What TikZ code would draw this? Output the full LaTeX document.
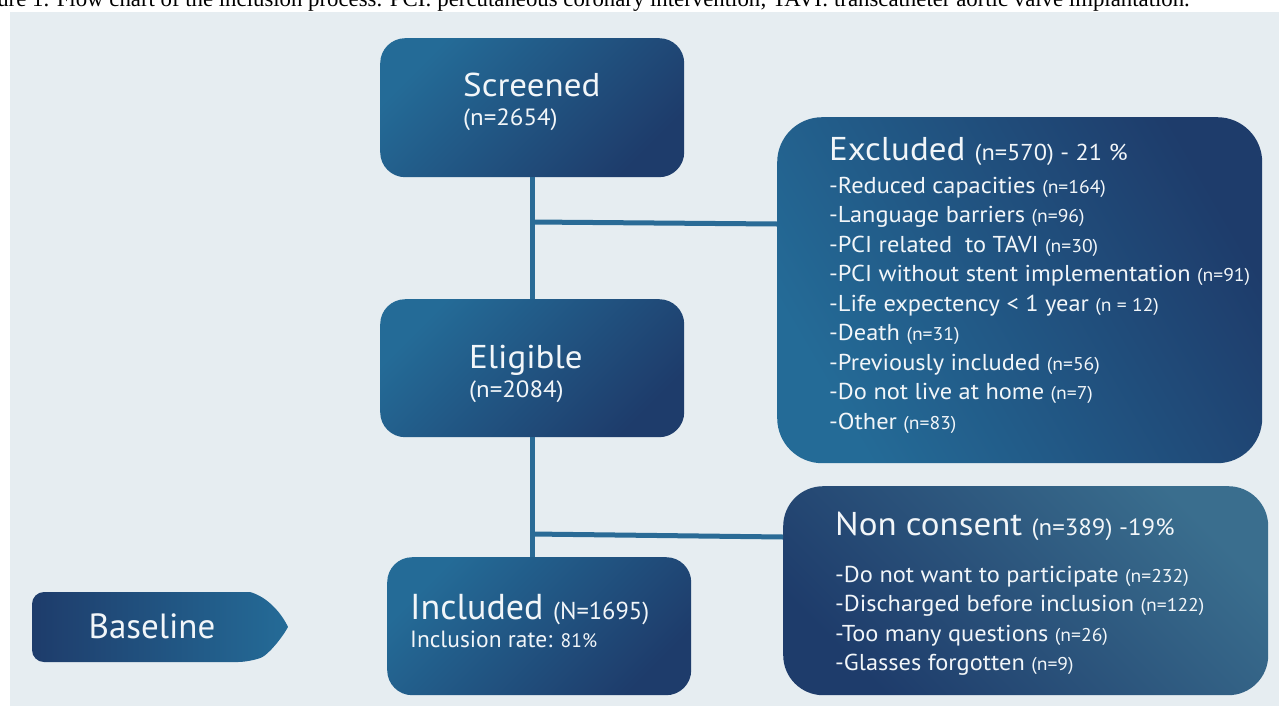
\documentclass[tikz,border=0pt]{standalone}
\usepackage{fontspec}
\setmainfont{PT Sans}[FakeStretch=1.06]
\newfontfamily\narrowsans{PT Sans}
\newfontfamily\capfont{Liberation Serif}
\usetikzlibrary{calc}

\definecolor{panel}{HTML}{E6EDF1}
\definecolor{boxlight}{HTML}{246B97}
\definecolor{boxdark}{HTML}{1E3C6B}
\definecolor{greylight}{HTML}{3A6E8E}
\definecolor{linkblue}{HTML}{2A6B96}
\definecolor{txt}{HTML}{F2F6F9}

\newcommand{\fsz}[1]{\fontsize{#1}{#1}\selectfont}

\begin{document}
\begin{tikzpicture}[x=1pt,y=-1pt,
  flowbox/.style={rounded corners=#1, top color=boxlight, bottom color=boxdark,
    shading angle=45, inner sep=0pt, anchor=north west},
  link/.style={draw=linkblue, line width=5pt},
  lbl/.style={anchor=base west, inner sep=0pt, text=txt},
  big/.style={lbl, font=\fsz{33}},
  sub/.style={lbl, font=\fsz{23.5}},
  item/.style={lbl, font=\fsz{23}}]

\clip (0,0) rectangle (1279,707);
\fill[white] (0,0) rectangle (1279,707);
\fill[panel] (10,12) rectangle (1279,706);

% caption strip along the top
\node[anchor=base east, inner sep=0pt, font=\capfont\fsz{22.8}] (caption) at (1190,6)
  {Figure 1. Flow chart of the inclusion process. PCI: percutaneous coronary intervention; TAVI: transcatheter aortic valve implantation.};

% boxes
\node[flowbox=25pt, minimum width=304pt, minimum height=139pt] (screened) at (380,38) {};
\node[flowbox=25pt, minimum width=304pt, minimum height=138pt] (eligible) at (380,299) {};
\node[flowbox=25pt, minimum width=304pt, minimum height=138pt] (included) at (387,557) {};
\node[flowbox=45pt, minimum width=485pt, minimum height=346pt, shading angle=120] (excluded) at (777,117) {};
\node[flowbox=40pt, minimum width=485pt, minimum height=209pt, top color=greylight,
  bottom color=boxdark, shading angle=-45] (nonconsent) at (783,486) {};

% baseline tag
\shade[left color=boxdark, right color=boxlight, rounded corners=12pt]
  (250,592) -- (32,592) -- (32,662) -- (250,662) [sharp corners] .. controls (268,655) and (282,638) .. (288,627)
  .. controls (282,614) and (268,597) .. (250,592) -- cycle;
\node[anchor=base, inner sep=0pt, text=txt, font=\narrowsans\fsz{35}] (baseline) at (152,638) {Baseline};

% connectors
\coordinate (j1) at (532,222);
\coordinate (e1) at (0,224);
\coordinate (j2) at (532,534);
\coordinate (e2) at (0,537);
\draw[link] (screened.south) -- (eligible.north);
\draw[link] (eligible.south) -- (eligible.south |- included.north);
\draw[link] (j1) -- (excluded.west |- e1);
\draw[link] (j2) -- (nonconsent.west |- e2);

% box texts
\node[big] (scrT) at (463,96) {Screened};
\node[sub] (scrN) at (463,125) {(n=2654)};
\node[big] (eliT) at (469,368) {Eligible};
\node[sub] (eliN) at (469,397) {(n=2084)};
\node[lbl, font=\narrowsans\fsz{36}] (incT) at (410,619) {Included {\fsz{24.5}(N=1695)}};
\node[lbl, font=\narrowsans\fsz{23.5}] (incN) at (410,647) {Inclusion rate: {\fsz{19.5}81\%}};

\node[big] (excT) at (829,160) {Excluded {\fsz{23}(n=570) - 21 \%}};
\node[item] (x1) at (829,193) {-Reduced capacities {\fsz{18.5}(n=164)}};
\node[item] (x2) at (829,222.5) {-Language barriers {\fsz{18.5}(n=96)}};
\node[item] (x3) at (829,252) {-PCI related\ \ to TAVI {\fsz{18.5}(n=30)}};
\node[item] (x4) at (829,281.5) {-PCI without stent implementation {\fsz{18.5}(n=91)}};
\node[item] (x5) at (829,311) {-Life expectency < 1 year {\fsz{18.5}(n = 12)}};
\node[item] (x6) at (829,340.5) {-Death {\fsz{18.5}(n=31)}};
\node[item] (x7) at (829,370) {-Previously included {\fsz{18.5}(n=56)}};
\node[item] (x8) at (829,399.5) {-Do not live at home {\fsz{18.5}(n=7)}};
\node[item] (x9) at (829,429) {-Other {\fsz{18.5}(n=83)}};

\node[big] (nonT) at (835,535) {Non consent {\fsz{23.5}(n=389) -19\%}};
\node[item] (n1) at (835,582) {-Do not want to participate {\fsz{18.5}(n=232)}};
\node[item] (n2) at (835,611.5) {-Discharged before inclusion {\fsz{18.5}(n=122)}};
\node[item] (n3) at (835,641) {-Too many questions {\fsz{18.5}(n=26)}};
\node[item] (n4) at (835,670) {-Glasses forgotten {\fsz{18.5}(n=9)}};
\end{tikzpicture}
\end{document}
